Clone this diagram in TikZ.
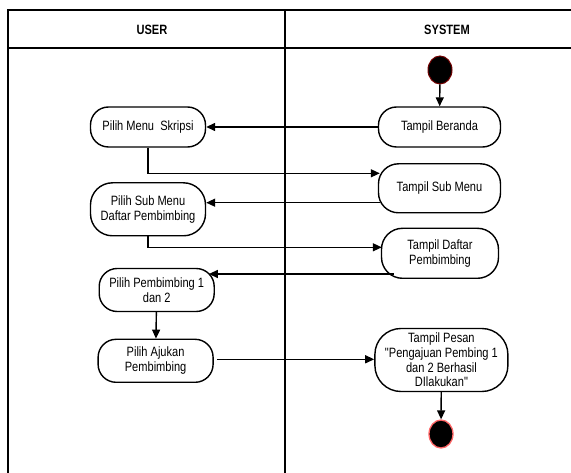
\documentclass[tikz,border=0pt]{standalone}
\usepackage{fontspec}
\setmainfont{Liberation Sans}
\newfontfamily\nfont[FakeStretch=0.82]{Liberation Sans}
\usetikzlibrary{arrows.meta,shapes.geometric}
\tikzset{
  act/.style={draw, line width=1.4pt, rounded corners=18pt, font=\nfont\fontsize{13.5}{14.7}\selectfont, align=center, inner sep=0pt},
  flow/.style={line width=1.4pt, -{Triangle[length=9pt,width=8pt]}},
  lane/.style={line width=1.4pt},
  hdr/.style={font=\nfont\bfseries\fontsize{13.5}{14.7}\selectfont}
}
\begin{document}
\begin{tikzpicture}[x=1pt,y=-1pt]
\useasboundingbox (0,0) rectangle (571,473);
\fill[white] (0,0) rectangle (571,473);
% swimlanes
\draw[lane] (8,473) -- (8,10) -- (571,10);
\draw[lane] (8,48) -- (571,48);
\draw[lane] (285,10) -- (285,473);
\node[hdr] (huser) at (152,30) {USER};
\node[hdr] (hsys) at (447,30) {SYSTEM};
% start
\node[draw=black!55!red, fill=black, line width=1pt, ellipse, minimum width=24pt, minimum height=28pt, inner sep=0pt] (start) at (440,70) {};
% activities
\node[act, minimum width=122pt, minimum height=40pt] (beranda) at (439.5,127) {Tampil Beranda};
\node[act, minimum width=115pt, minimum height=40pt] (skripsi) at (148,127) {Pilih Menu\ \ Skripsi};
\node[act, minimum width=122pt, minimum height=49pt, rounded corners=20pt] (submenu) at (439.5,188.3) {Tampil Sub Menu};
\node[act, minimum width=115pt, minimum height=53pt, rounded corners=22pt] (pilsub) at (148,209.3) {Pilih Sub Menu\\Daftar Pembimbing};
\node[act, minimum width=117pt, minimum height=50pt, rounded corners=21pt] (daftar) at (440,253.3) {Tampil Daftar\\Pembimbing};
\node[act, minimum width=115pt, minimum height=43pt] (pilpem) at (156.7,290) {Pilih Pembimbing 1\\dan 2};
\node[act, minimum width=115pt, minimum height=43pt] (ajukan) at (155.6,360.8) {Pilih Ajukan\\Pembimbing};
\node[act, minimum width=133pt, minimum height=63pt, rounded corners=26pt] (pesan) at (441.4,360) {Tampil Pesan\\"Pengajuan Pembing 1\\dan 2 Berhasil\\DIlakukan"};
% end
\node[draw=red!60, fill=black, line width=1.3pt, ellipse, minimum width=24pt, minimum height=28pt, inner sep=0pt] (end) at (441,434) {};
% flows
\draw[flow] (start) -- (beranda);
\draw[flow] (beranda) -- (skripsi);
\draw[flow] (skripsi.south) |- ([xshift=2pt]submenu.west |- 0,173.3);
\draw[flow] ([xshift=2pt]submenu.west |- 0,202.7) -- (pilsub.east |- 0,202.7);
\draw[flow] (pilsub.south) |- ([xshift=1pt]daftar.west |- 0,247.3);
\draw[flow] ([xshift=13pt]daftar.west |- 0,274) -- ([xshift=-6pt]pilpem.east |- 0,274);
\draw[flow] (pilpem) -- (ajukan);
\draw[flow] ([xshift=3pt]ajukan.east |- 0,359.3) -- (pesan.west |- 0,359.3);
\draw[flow] (pesan) -- (end);
\end{tikzpicture}
\end{document}
